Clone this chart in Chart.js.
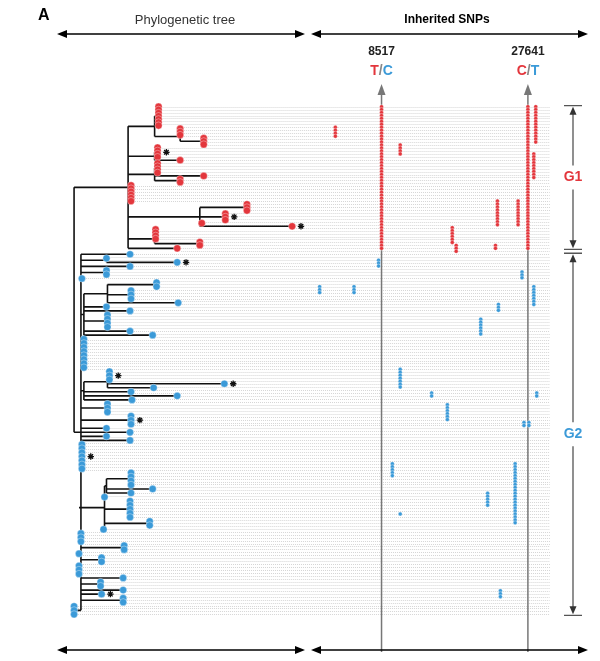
<!DOCTYPE html>
<html><head><meta charset="utf-8">
<script src="https://cdn.jsdelivr.net/npm/chart.js@4.4.1/dist/chart.umd.min.js"></script>
<style>html,body{margin:0;padding:0;background:#fff}canvas{display:block}</style>
</head><body>
<canvas id="c" width="600" height="661"></canvas>
<script>
// ---- DATA ----
// leaf: depth (divergence from root), number of identical samples stacked, star flag
function L(d, n, s) { return { d: d, n: n || 1, s: s || 0 }; }
// internal node: [depth, ...children]
const treeG1 = [9, [55,
  [82, L(86, 7), [108, L(108, 3), L(132, 3)]],
  [82, L(85, 4, 1), L(108, 1)],
  [82, L(85, 4), L(132, 1), L(108, 2)],
  L(58, 6),
  [128, L(176, 3), L(154, 3, 1), L(130, 1), L(222, 1, 1)],
  [82, L(83, 4), L(128, 2)],
  L(105, 1)
]];
const treeG2 = [7,
  L(57, 1), [33, L(33, 1), L(105, 1, 1)], L(57, 1), L(33, 2), L(8, 1),
  [10, [34, L(84, 2), L(58, 3), L(106, 1)], L(33, 1), L(57, 1), L(34, 4), L(57, 1), L(80, 1)],
  L(10, 8),
  [10, [34, L(36, 3, 1), L(153, 1, 1), L(81, 1)], L(58, 1), L(105, 1), L(59, 1)],
  [8, L(34, 3)], [8, L(58, 3, 1)],
  L(33, 1), L(57, 1), L(33, 1), L(57, 1),
  L(8, 7, 1),
  [5, [31, [33, L(58, 4), L(80, 1), L(58, 1)], L(31, 1), L(57, 5), L(77, 2), L(30, 1)]],
  L(7, 3), L(51, 2), L(5, 1), L(28, 2), L(5, 3),
  L(50, 1), L(27, 2), L(50, 1), L(28, 1, 1), L(50, 2),
  L(0, 3)
];
const groupRows = { G1: [0, 48], G2: [50, 172] };
const totalRows = 172;
// inherited SNP marks: [column position, first row, last row]
const snpRed = [
  [266, 7, 10], [313, 0, 48], [332, 13, 16], [385, 41, 46], [389, 47, 49], [429, 47, 48],
  [431, 32, 40], [452, 32, 40], [462, 0, 48], [470, 0, 12], [468, 16, 24]
];
const snpBlue = [
  [310, 52, 54], [456, 56, 58], [250, 61, 63], [285, 61, 63], [468, 61, 67], [432, 67, 69],
  [414, 72, 77], [332, 89, 95], [364, 97, 98], [471, 97, 98], [380, 101, 106],
  [458, 107, 108], [463, 107, 108], [324, 121, 125], [449, 121, 141], [421, 131, 135],
  [332, 138, 138], [434, 164, 166]
];
const markerSites = [{ pos: 313, label: '8517', a: 'T', b: 'C' }, { pos: 462, label: '27641', a: 'C', b: 'T' }];

// ---- LAYOUT ----
const RED = '#e3363c', BLUE = '#3b9ad8';
const branches = [], tips = { G1: [], G2: [] }, stars = [], tipList = [];
function collect(node, grp, out) {
  if (!Array.isArray(node)) { node.ord = []; for (let i = 0; i < node.n; i++) node.ord.push(out.k++); return; }
  for (let i = 1; i < node.length; i++) collect(node[i], grp, out);
}
function place(node, map) {
  if (!Array.isArray(node)) { node.ys = node.ord.map(map); node.y = (node.ys[0] + node.ys[node.ys.length - 1]) / 2; return node.y; }
  const ys = []; for (let i = 1; i < node.length; i++) ys.push(place(node[i], map));
  node.y = (ys[0] + ys[ys.length - 1]) / 2; node.y0 = ys[0]; node.y1 = ys[ys.length - 1]; return node.y;
}
function seg(x1, y1, x2, y2) { branches.push({ x: x1, y: y1 }, { x: x2, y: y2 }, { x: NaN, y: NaN }); }
function draw(node, pd, grp) {
  if (!Array.isArray(node)) {
    seg(pd, node.y, node.d, node.y);
    if (node.n > 1) seg(node.d, node.ys[0], node.d, node.ys[node.ys.length - 1]);
    node.ys.forEach(y => { tips[grp].push({ x: node.d, y: y }); tipList.push({ x: node.d, y: y }); });
    if (node.s) stars.push({ x: node.d + 9, y: node.y });
    return;
  }
  const d = node[0];
  seg(pd, node.y, d, node.y);
  seg(d, node.y0, d, node.y1);
  for (let i = 1; i < node.length; i++) draw(node[i], d, grp);
}
[[treeG1, 'G1'], [treeG2, 'G2']].forEach(([t, g]) => {
  const o = { k: 0 }; collect(t, g, o);
  const [a, b] = groupRows[g];
  place(t, k => a + k * (b - a) / (o.k - 1));
});
seg(0, treeG1.y, 0, treeG2.y);
draw(treeG1, 0, 'G1'); draw(treeG2, 0, 'G2');
function snpPts(list) { const p = []; list.forEach(([x, a, b]) => { for (let r = a; r <= b; r++) p.push({ x: x, y: r }); }); return p; }

// ---- DECORATION PLUGIN ----
const deco = {
  id: 'deco',
  beforeDatasetsDraw(ch) {
    const c = ch.ctx, xs = ch.scales.x, ys = ch.scales.y;
    c.save();
    c.strokeStyle = '#c4c4c4'; c.lineWidth = 0.7; c.setLineDash([1, 1]);
    for (let r = 0; r <= totalRows; r++) {
      let best = null, bd = 1e9;
      tipList.forEach(t => { const dd = Math.abs(t.y - r); if (dd < bd) { bd = dd; best = t; } });
      const py = Math.round(ys.getPixelForValue(r)) + 0.5;
      c.beginPath(); c.moveTo(xs.getPixelForValue(best.x) + 4, py); c.lineTo(550, py); c.stroke();
    }
    c.setLineDash([]);
    c.strokeStyle = '#777'; c.fillStyle = '#777'; c.lineWidth = 1.5;
    markerSites.forEach(m => {
      const px = xs.getPixelForValue(m.pos);
      c.beginPath(); c.moveTo(px, 652); c.lineTo(px, 90); c.stroke();
      c.beginPath(); c.moveTo(px - 4, 95); c.lineTo(px, 84); c.lineTo(px + 4, 95); c.closePath(); c.fill();
    });
    c.restore();
  },
  afterDraw(ch) {
    const c = ch.ctx, xs = ch.scales.x, ys = ch.scales.y;
    c.save();
    c.fillStyle = '#000'; c.font = 'bold 16px Arial, "Liberation Sans", sans-serif'; c.textBaseline = 'middle';
    c.fillText('A', 38, 16);
    c.textAlign = 'center';
    c.font = '13px Arial, "Liberation Sans", sans-serif'; c.fillStyle = '#333';
    c.fillText('Phylogenetic tree', 185, 20);
    c.font = 'bold 12px Arial, "Liberation Sans", sans-serif'; c.fillStyle = '#000';
    c.fillText('Inherited SNPs', 447, 20);
    function harrow(x1, x2, y) {
      c.strokeStyle = '#000'; c.fillStyle = '#000'; c.lineWidth = 1.6;
      c.beginPath(); c.moveTo(x1 + 4, y); c.lineTo(x2 - 4, y); c.stroke();
      c.beginPath(); c.moveTo(x1, y); c.lineTo(x1 + 10, y - 4); c.lineTo(x1 + 10, y + 4); c.closePath(); c.fill();
      c.beginPath(); c.moveTo(x2, y); c.lineTo(x2 - 10, y - 4); c.lineTo(x2 - 10, y + 4); c.closePath(); c.fill();
    }
    harrow(57, 305, 34); harrow(311, 588, 34); harrow(57, 305, 650); harrow(311, 588, 650);
    markerSites.forEach(m => {
      const px = xs.getPixelForValue(m.pos);
      c.font = 'bold 12px Arial, "Liberation Sans", sans-serif'; c.fillStyle = '#222'; c.textAlign = 'center';
      c.fillText(m.label, px, 52);
      c.font = 'bold 14px Arial, "Liberation Sans", sans-serif';
      const wa = c.measureText(m.a).width, ws = c.measureText('/').width, wb = c.measureText(m.b).width;
      let x0 = px - (wa + ws + wb) / 2; c.textAlign = 'left';
      c.fillStyle = RED; c.fillText(m.a, x0, 71);
      c.fillStyle = '#888'; c.fillText('/', x0 + wa, 71);
      c.fillStyle = BLUE; c.fillText(m.b, x0 + wa + ws, 71);
    });
    function bracket(r0, r1, lab, col) {
      const y0 = ys.getPixelForValue(r0) - 1, y1 = ys.getPixelForValue(r1) + 1, x = 573, ym = (y0 + y1) / 2;
      c.strokeStyle = '#555'; c.fillStyle = '#333'; c.lineWidth = 1.3;
      c.beginPath(); c.moveTo(564, y0); c.lineTo(582, y0); c.moveTo(564, y1); c.lineTo(582, y1); c.stroke();
      c.beginPath(); c.moveTo(x, y0 + 6); c.lineTo(x, ym - 12); c.moveTo(x, ym + 12); c.lineTo(x, y1 - 6); c.stroke();
      c.beginPath(); c.moveTo(x, y0 + 1); c.lineTo(x - 3.5, y0 + 9); c.lineTo(x + 3.5, y0 + 9); c.closePath(); c.fill();
      c.beginPath(); c.moveTo(x, y1 - 1); c.lineTo(x - 3.5, y1 - 9); c.lineTo(x + 3.5, y1 - 9); c.closePath(); c.fill();
      c.font = 'bold 14px Arial, "Liberation Sans", sans-serif'; c.fillStyle = col; c.textAlign = 'center';
      c.fillText(lab, x, ym);
    }
    bracket(groupRows.G1[0], groupRows.G1[1], 'G1', RED);
    bracket(groupRows.G2[0], groupRows.G2[1], 'G2', BLUE);
    c.restore();
  }
};

// ---- CHART ----
new Chart(document.getElementById('c'), {
  type: 'scatter',
  data: {
    datasets: [
      { data: branches, showLine: true, spanGaps: false, borderColor: '#111', borderWidth: 1.6, pointRadius: 0, order: 5 },
      { data: tips.G1, backgroundColor: RED, borderColor: 'rgba(255,255,255,0.6)', borderWidth: 0.6, pointRadius: 3.6, order: 4 },
      { data: tips.G2, backgroundColor: BLUE, borderColor: 'rgba(255,255,255,0.6)', borderWidth: 0.6, pointRadius: 3.6, order: 4 },
      { data: snpPts(snpRed), backgroundColor: RED, borderColor: 'rgba(255,255,255,0.7)', borderWidth: 0.5, pointRadius: 2, order: 3 },
      { data: snpPts(snpBlue), backgroundColor: BLUE, borderColor: 'rgba(255,255,255,0.7)', borderWidth: 0.5, pointRadius: 2, order: 3 },
      { data: stars, pointStyle: 'star', borderColor: '#111', borderWidth: 1.3, pointRadius: 3.2, order: 2 }
    ]
  },
  options: {
    responsive: false, animation: false, events: [],
    layout: { padding: 0 },
    plugins: { legend: { display: false }, tooltip: { enabled: false } },
    scales: {
      x: { type: 'linear', display: false, min: -70, max: 530 },
      y: { type: 'linear', display: false, reverse: true, min: -103 / 3, max: (661 - 103) / 3 }
    }
  },
  plugins: [deco]
});
</script>
</body></html>
